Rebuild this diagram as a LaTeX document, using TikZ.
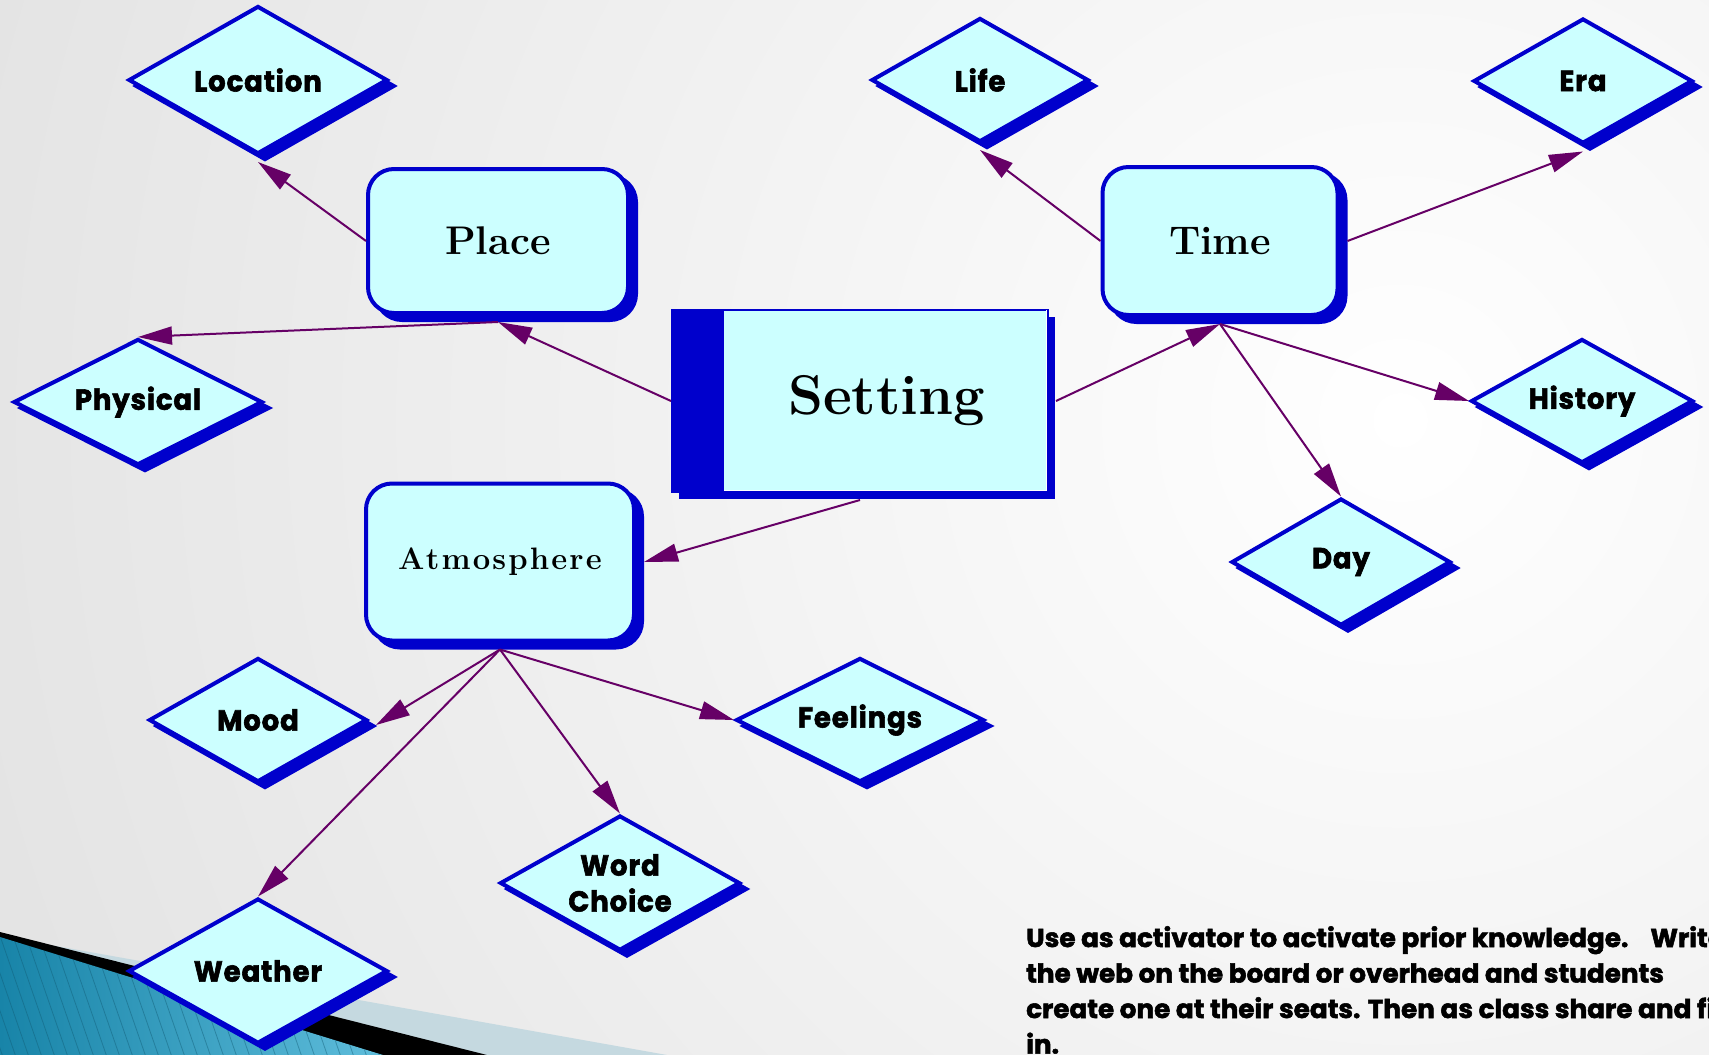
\documentclass[tikz,border=0pt]{standalone}
\usepackage{fontspec}
\newfontfamily\notefont{Poppins}[FakeStretch=1.01,FakeBold=2]
\newfontfamily\diafont{Poppins}[FakeStretch=0.95,LetterSpace=3,FakeBold=2]
\newfontfamily\atmofont{Latin Modern Roman}[LetterSpace=7]
\usetikzlibrary{shapes.geometric,shadows,arrows.meta,calc}
\definecolor{myblue}{RGB}{0,0,204}
\definecolor{mycyan}{RGB}{204,255,255}
\definecolor{mypurple}{RGB}{102,0,102}
\definecolor{bggray}{RGB}{220,220,220}
\definecolor{stripeA}{RGB}{24,132,168}
\definecolor{stripeB}{RGB}{96,190,220}
\definecolor{lightband}{RGB}{197,217,224}
\begin{document}
\begin{tikzpicture}[x=1pt,y=-1pt,
  dia/.style={diamond, aspect=1.75, draw=myblue, line width=4pt, fill=mycyan, inner sep=0pt, align=center,
    font=\diafont\bfseries\fontsize{29}{36}\selectfont,
    general shadow={shadow xshift=7pt, shadow yshift=-6pt, fill=myblue, draw=myblue, line width=4pt}},
  hub/.style={rectangle, rounded corners=26pt, draw=myblue, line width=4pt, fill=mycyan, inner sep=0pt,
    general shadow={shadow xshift=8pt, shadow yshift=-7pt, fill=myblue, draw=myblue, line width=4pt}},
  link/.style={draw=mypurple, line width=2pt, -{Triangle[length=34pt,width=18pt]}}
]
\clip (0,0) rectangle (1709,1055);
\fill[bggray] (0,0) rectangle (1709,1055);
\shade[inner color=white, outer color=bggray] (1400,420) circle (1900);
% bottom-left decoration
\fill[lightband] (0,936) -- (667,1055) -- (0,1055) -- cycle;
\fill[black] (0,932) -- (487,1055) -- (0,1055) -- cycle;
\begin{scope}
  \clip (0,937) -- (383,1055) -- (0,1055) -- cycle;
  \shade[left color=stripeA, right color=stripeB] (0,930) rectangle (390,1055);
  \foreach \i in {-80,-67,...,400}
    \draw[stripeA!70!black, line width=0.8pt, opacity=0.45] (\i,930) -- ++(45,130);
\end{scope}

% central node
\node[draw=myblue, line width=2pt, fill=mycyan, minimum width=376pt, minimum height=182pt, inner sep=0pt,
  general shadow={shadow xshift=7pt, shadow yshift=-7pt, fill=myblue},
  font=\bfseries\fontsize{56}{60}\selectfont] (setting) at (860,401) {\hspace*{53pt}Setting};
\fill[myblue] (setting.north west) rectangle ([xshift=53pt]setting.south west);
\draw[white, line width=1pt] ([xshift=53pt,yshift=3pt]setting.south west) -- ([xshift=-3pt,yshift=3pt]setting.south east) -- ([xshift=-3pt,yshift=-1pt]setting.north east);

% hubs
\node[hub, minimum width=260pt, minimum height=144pt, font=\bfseries\fontsize{40}{44}\selectfont] (place) at (498,241) {Place};
\node[hub, minimum width=235pt, minimum height=148pt, font=\bfseries\fontsize{40}{44}\selectfont] (time) at (1220,241) {Time};
\node[hub, minimum width=268pt, minimum height=157pt, font=\atmofont\bfseries\fontsize{31}{36}\selectfont] (atmo) at (500,562) {Atmosphere};

% leaves
\node[dia, minimum width=259pt, minimum height=148pt] (location) at (258,80) {Location};
\node[dia, minimum width=249pt, minimum height=126pt] (physical) at (138,402) {Physical};
\node[dia, minimum width=217pt, minimum height=124pt] (life) at (980,80) {Life};
\node[dia, minimum width=219pt, minimum height=125pt] (era) at (1583,81) {Era};
\node[dia, minimum width=222pt, minimum height=124pt] (history) at (1582,401) {History};
\node[dia, minimum width=219pt, minimum height=127pt] (day) at (1341,562) {Day};
\node[dia, minimum width=218pt, minimum height=124pt] (mood) at (258,720) {Mood};
\node[dia, minimum width=248pt, minimum height=124pt] (feelings) at (860,720) {Feelings};
\node[dia, minimum width=240pt, minimum height=135pt] (word) at (620,883) {Word\\Choice};
\node[dia, minimum width=259pt, minimum height=145pt] (weather) at (258,971) {Weather};

% connectors
\draw[link] (place.west) -- ([yshift=-6pt]location.south);
\draw[link] ([yshift=-7pt]place.south) -- (physical.north);
\draw[link] (setting.west) -- ([yshift=-7pt]place.south);
\draw[link] ([xshift=7pt]setting.east) -- ([yshift=-7pt]time.south);
\draw[link] ([yshift=-7pt]setting.south) -- ([xshift=8pt]atmo.east);
\draw[link] (time.west) -- ([yshift=-6pt]life.south);
\draw[link] ([xshift=8pt]time.east) -- ([yshift=-6pt]era.south);
\draw[link] ([yshift=-7pt]time.south) -- (history.west);
\draw[link] ([yshift=-7pt]time.south) -- (day.north);
\draw[link] ([yshift=-7pt]atmo.south) -- ([xshift=7pt,yshift=-5pt]mood.east);
\draw[link] ([yshift=-7pt]atmo.south) -- (feelings.west);
\draw[link] ([yshift=-7pt]atmo.south) -- (word.north);
\draw[link] ([yshift=-7pt]atmo.south) -- (weather.north);

% note
\node[anchor=north west, align=left, inner sep=0pt,
  font=\notefont\bfseries\fontsize{26}{35.5}\selectfont] (note) at (1026,926)
  {Use as activator to activate prior knowledge.\hspace*{22pt}Write\\
   the web on the board or overhead and students\\
   create one at their seats. Then as class share and fill\\
   in.};
\end{tikzpicture}
\end{document}
